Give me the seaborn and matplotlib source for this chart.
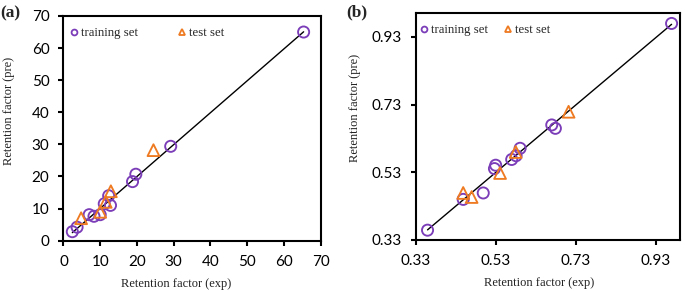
import numpy as np
import pandas as pd
import matplotlib
matplotlib.use("Agg")
import matplotlib.pyplot as plt
import seaborn as sns
from matplotlib.lines import Line2D

# ---- data (a) ----
a_train_exp = [2.4, 3.7, 7.0, 8.3, 10.0, 11.1, 12.3, 12.8, 18.8, 19.7, 29.2, 65.4]
a_train_pre = [2.8, 4.2, 8.1, 7.6, 8.1, 11.5, 14.0, 11.0, 18.4, 20.7, 29.4, 65.0]
a_test_exp = [4.8, 10.0, 11.5, 12.9, 24.5]
a_test_pre = [7.0, 9.0, 12.1, 15.4, 28.2]

# ---- data (b) ----
b_train_exp = [0.360, 0.449, 0.499, 0.527, 0.530, 0.570, 0.581, 0.591, 0.670, 0.679, 0.969]
b_train_pre = [0.359, 0.450, 0.469, 0.541, 0.551, 0.568, 0.579, 0.601, 0.670, 0.660, 0.970]
b_test_exp = [0.449, 0.470, 0.541, 0.580, 0.712]
b_test_pre = [0.469, 0.457, 0.528, 0.590, 0.709]

a_ticks = [0, 10, 20, 30, 40, 50, 60, 70]
b_ticks = [0.33, 0.53, 0.73, 0.93]
b_ticklabels = ["0.33", "0.53", "0.73", "0.93"]

PURPLE = "#7B3DB8"
ORANGE = "#EE7A22"

sns.set_style("ticks")
plt.rcParams["font.family"] = ["Lato", "DejaVu Sans"]
SERIF = ["Liberation Serif", "DejaVu Serif"]

fig = plt.figure(figsize=(6.85, 2.91), dpi=100)
axA = fig.add_axes([0.0927, 0.1729, 0.3752, 0.7722])
axB = fig.add_axes([0.6066, 0.1753, 0.3861, 0.7790])


def draw(ax, tx, ty, sx, sy):
    sns.regplot(x=np.array(tx), y=np.array(ty), ax=ax, scatter=False, ci=None,
                truncate=True, line_kws=dict(color="black", lw=1.0, zorder=1))
    sns.scatterplot(x=tx, y=ty, ax=ax, marker="o", s=64, facecolors="none",
                    edgecolor=PURPLE, linewidth=1.35, zorder=3)
    sns.scatterplot(x=sx, y=sy, ax=ax, marker="^", s=72, facecolors="none",
                    edgecolor=ORANGE, linewidth=1.35, zorder=4)
    for sp in ax.spines.values():
        sp.set_visible(True)
        sp.set_linewidth(1.5)
        sp.set_color("black")
    ax.tick_params(axis="both", direction="out", length=3.6, width=1.5,
                   labelsize=11, colors="black", top=False, right=False)
    ax.tick_params(axis="x", pad=6.5)
    ax.tick_params(axis="y", pad=6.5)


draw(axA, a_train_exp, a_train_pre, a_test_exp, a_test_pre)
draw(axB, b_train_exp, b_train_pre, b_test_exp, b_test_pre)

axA.set_xlim(0, 70)
axA.set_ylim(0, 70)
axA.set_xticks(a_ticks)
axA.set_yticks(a_ticks)

axB.set_xlim(0.33, 0.99)
axB.set_ylim(0.33, 1.0)
axB.set_xticks(b_ticks)
axB.set_xticklabels(b_ticklabels)
axB.set_yticks(b_ticks)
axB.set_yticklabels(b_ticklabels)

for ax, xc, yc, xlx, yly in [(axA, 0.44, 0.578, -0.165, -0.19),
                             (axB, 0.467, 0.581, -0.165, -0.205)]:
    ax.set_xlabel("Retention factor (exp)", family=SERIF, fontsize=9, color="#222222")
    ax.set_ylabel("Retention factor (pre)", family=SERIF, fontsize=9, color="#222222")
    ax.xaxis.set_label_coords(xc, xlx)
    ax.yaxis.set_label_coords(yly, yc)

handles = [Line2D([], [], marker="o", ls="none", markersize=4.2, markerfacecolor="none",
                  markeredgecolor=PURPLE, markeredgewidth=1.3, label="training set"),
           Line2D([], [], marker="^", ls="none", markersize=4.5, markerfacecolor="none",
                  markeredgecolor=ORANGE, markeredgewidth=1.3, label="test set")]

axA.legend(handles=handles, loc="upper left", bbox_to_anchor=(-0.02, 1.0), ncol=2,
           frameon=False, prop=dict(family=SERIF, size=9.2), handlelength=0.6,
           handletextpad=0.25, columnspacing=3.2, borderaxespad=0.5)
axB.legend(handles=handles, loc="upper left", bbox_to_anchor=(-0.023, 1.0), ncol=2,
           frameon=False, prop=dict(family=SERIF, size=9.2), handlelength=0.6,
           handletextpad=0.25, columnspacing=1.25, borderaxespad=0.45)

fig.text(0.0, 0.955, "(a)", family=SERIF, fontsize=12.5, fontweight="bold", va="center", ha="left")
fig.text(0.505, 0.958, "(b)", family=SERIF, fontsize=12.5, fontweight="bold", va="center", ha="left")

fig.savefig("out.png", dpi=100)
